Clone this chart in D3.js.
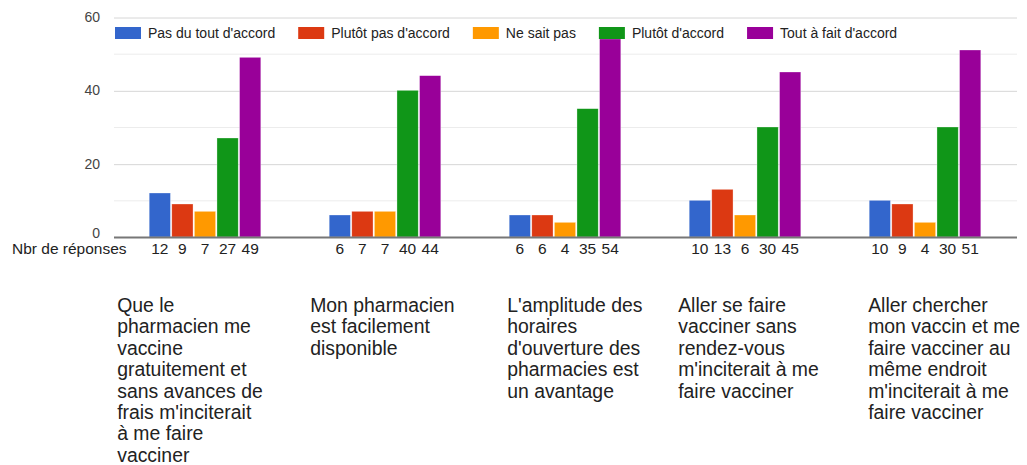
<!DOCTYPE html>
<html>
<head>
<meta charset="utf-8">
<script src="https://cdn.jsdelivr.net/npm/d3@7"></script>
<style>
  html, body { margin: 0; padding: 0; background: #fff; }
  svg { display: block; font-family: "Liberation Sans", Arial, sans-serif; }
</style>
</head>
<body>
<svg id="chart" width="1027" height="465"></svg>
<script>
// Survey statements (pre-wrapped lines)
const categories = [
  ["Que le", "pharmacien me", "vaccine", "gratuitement et", "sans avances de", "frais m'inciterait", "à me faire", "vacciner"],
  ["Mon pharmacien", "est facilement", "disponible"],
  ["L'amplitude des", "horaires", "d'ouverture des", "pharmacies est", "un avantage"],
  ["Aller se faire", "vacciner sans", "rendez-vous", "m'inciterait à me", "faire vacciner"],
  ["Aller chercher", "mon vaccin et me", "faire vacciner au", "même endroit", "m'inciterait à me", "faire vacciner"]
];

const seriesNames = ["Pas du tout d'accord", "Plutôt pas d'accord", "Ne sait pas", "Plutôt d'accord", "Tout à fait d'accord"];

// Number of answers per statement, one array per answer
const pasDuTout   = [12, 6, 6, 10, 10];
const plutotPas   = [9, 7, 6, 13, 9];
const neSaitPas   = [7, 7, 4, 6, 4];
const plutotOui   = [27, 40, 35, 30, 30];
const toutAFait   = [49, 44, 54, 45, 51];

const yTicks = [0, 20, 40, 60];
const rowLabel = "Nbr de réponses";

const seriesValues = [pasDuTout, plutotPas, neSaitPas, plutotOui, toutAFait];
const colors = ["#3366cc", "#dc3912", "#ff9900", "#109618", "#990099"];

// Layout
const plotLeft = 115, plotRight = 1015, plotTop = 17, plotBottom = 237;
const labelNudge = [-32, -19, -2, -11, -1];

const svg = d3.select("#chart");
svg.append("rect").attr("width", 1027).attr("height", 465).attr("fill", "#fff");

const x0 = d3.scaleBand()
  .domain(d3.range(categories.length))
  .range([plotLeft, plotRight])
  .paddingInner(0.38)
  .paddingOuter(0.19);

const x1 = d3.scaleBand()
  .domain(d3.range(seriesNames.length))
  .range([0, x0.bandwidth()])
  .paddingInner(0.06);

const y = d3.scaleLinear().domain([0, 60]).range([plotBottom, plotTop]);

// Minor gridlines
svg.append("g").selectAll("line")
  .data([10, 30, 50])
  .join("line")
  .attr("x1", plotLeft - 1).attr("x2", plotRight + 2)
  .attr("y1", d => y(d) + 0.5).attr("y2", d => y(d) + 0.5)
  .attr("stroke", "#ececec").attr("stroke-width", 1);

// Major gridlines + tick labels
const yAxis = d3.axisLeft(y).tickValues(yTicks).tickSize(0).tickPadding(14);
const gy = svg.append("g").attr("transform", `translate(${plotLeft - 1},0)`).call(yAxis);
gy.select(".domain").remove();
gy.selectAll(".tick line")
  .attr("transform", "translate(0,0.5)")
  .attr("x1", 0).attr("x2", plotRight - plotLeft + 3)
  .attr("stroke", d => d === 0 ? "none" : "#d6d6d6");
gy.selectAll(".tick text")
  .attr("x", -14)
  .attr("y", d => d === 0 ? -4 : 0)
  .attr("fill", "#444")
  .style("font-size", "14px")
  .style("font-family", "'Liberation Sans', Arial, sans-serif");

// Bars
const groups = svg.append("g").selectAll("g")
  .data(categories.map((c, i) => i))
  .join("g")
  .attr("transform", i => `translate(${x0(i)},0)`);

groups.selectAll("rect")
  .data(i => seriesValues.map((vals, s) => ({ s, v: vals[i] })))
  .join("rect")
  .attr("x", d => x1(d.s))
  .attr("y", d => y(d.v))
  .attr("width", x1.bandwidth())
  .attr("height", d => y(0) - y(d.v))
  .attr("fill", d => colors[d.s])
  .attr("stroke", "#fff")
  .attr("stroke-opacity", 0.5)
  .attr("stroke-width", 0.6);

// Baseline
svg.append("line")
  .attr("x1", plotLeft - 1).attr("x2", plotRight + 2)
  .attr("y1", y(0) + 0.5).attr("y2", y(0) + 0.5)
  .attr("stroke", "#777").attr("stroke-width", 2);

// Value row under the bars
groups.selectAll("text.val")
  .data(i => seriesValues.map((vals, s) => ({ s, v: vals[i] })))
  .join("text")
  .attr("class", "val")
  .attr("x", d => x1(d.s) + x1.bandwidth() / 2)
  .attr("y", 254)
  .attr("text-anchor", "middle")
  .attr("fill", "#222")
  .style("font-size", "15.5px")
  .text(d => d.v);

svg.append("text")
  .attr("x", 12).attr("y", 254)
  .attr("fill", "#222")
  .style("font-size", "15.5px")
  .text(rowLabel);

// Category labels
svg.append("g").selectAll("text")
  .data(categories)
  .join("text")
  .attr("x", (d, i) => x0(i) + labelNudge[i])
  .attr("y", 312)
  .attr("fill", "#222")
  .style("font-size", "19.4px")
  .selectAll("tspan")
  .data((d, i) => d.map(line => ({ line, i })))
  .join("tspan")
  .attr("x", d => x0(d.i) + labelNudge[d.i])
  .attr("dy", (d, k) => k === 0 ? 0 : 21.4)
  .text(d => d.line);

// Legend
const legend = svg.append("g");
let lx = 115;
seriesNames.forEach((name, s) => {
  const item = legend.append("g");
  item.append("rect")
    .attr("x", lx).attr("y", 27)
    .attr("width", 26).attr("height", 12)
    .attr("fill", colors[s]);
  const t = item.append("text")
    .attr("x", lx + 33).attr("y", 38)
    .attr("fill", "#222")
    .style("font-size", "14px")
    .text(name);
  lx += 33 + t.node().getComputedTextLength() + 23;
});
</script>
</body>
</html>
